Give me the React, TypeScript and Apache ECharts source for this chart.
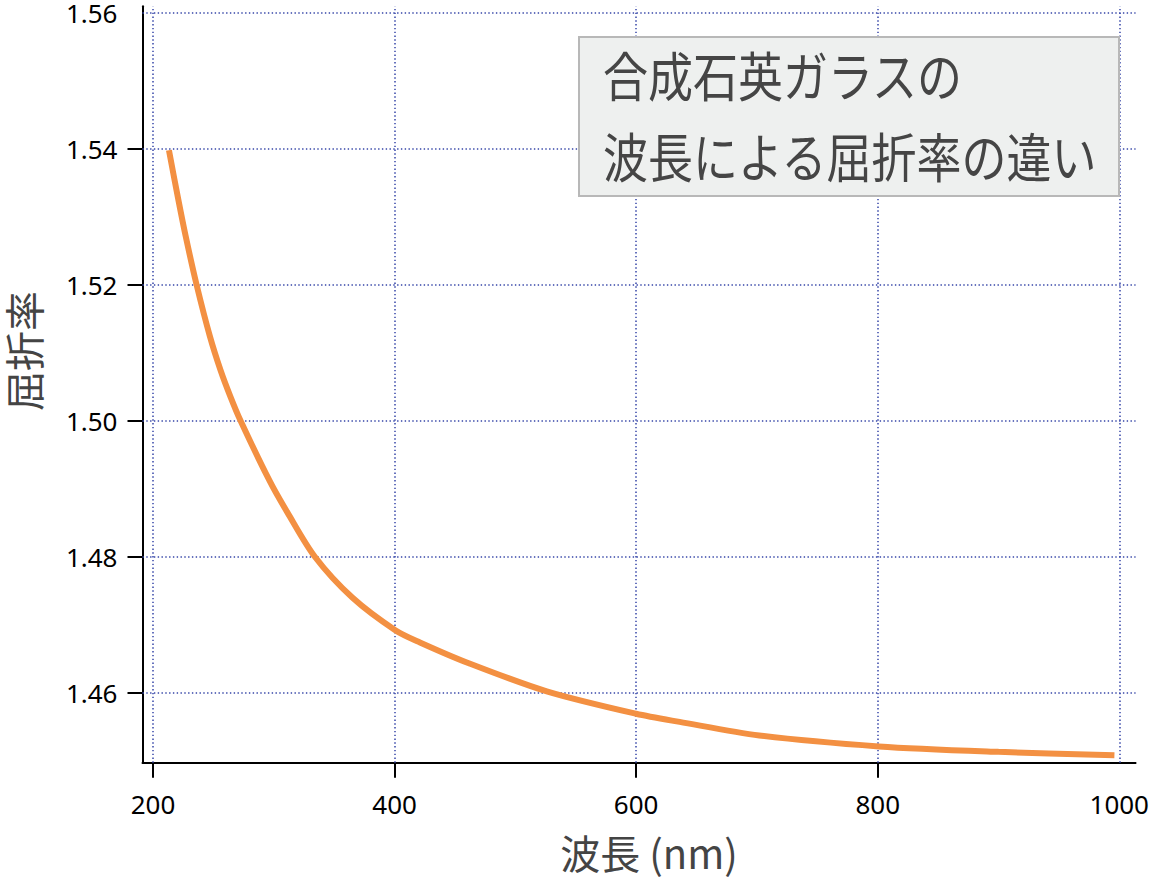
import React, { useEffect, useRef } from "react";
import * as echarts from "echarts";

const wavelengths = [213.2, 221, 227, 236.1, 247, 256, 264, 272.5, 297, 311, 334, 365, 400.6, 421, 462, 526, 600, 636, 702, 801, 900, 996];
const refractiveIndex = [1.5398, 1.5325, 1.5272, 1.52, 1.5125, 1.5074, 1.5036, 1.5, 1.491, 1.4866, 1.48, 1.474, 1.4692, 1.4674, 1.4643, 1.4602, 1.4569, 1.4557, 1.4537, 1.4521, 1.4513, 1.4508];

const xTickValues = [200, 400, 600, 800];
const xLabelValues = [200, 400, 600, 800, 1000];
const yTickValues = [1.46, 1.48, 1.5, 1.52, 1.54];
const yLabelValues = [1.46, 1.48, 1.5, 1.52, 1.54, 1.56];

const titleLines = ["合成石英ガラスの", "波長による屈折率の違い"];
const xName = "波長 (nm)";
const yName = "屈折率";

const FONT = "'Noto Sans CJK JP', 'Noto Sans', sans-serif";
const LABEL_FONT = "'Noto Sans', sans-serif";

export default function App() {
  const ref = useRef<HTMLDivElement>(null);
  useEffect(() => {
    if (!ref.current) return;
    const chart = echarts.init(ref.current, undefined, { renderer: "svg" });
    const gridLineStyle = { color: "#3646a8", width: 1.5, type: [1.4, 2.4] as any };
    const option: any = {
      animation: false,
      backgroundColor: "#ffffff",
      grid: { left: 142.5, right: 15, top: 3, bottom: 120.3, containLabel: false },
      xAxis: {
        type: "value",
        min: 191.3,
        max: 1013.5,
        axisLine: { lineStyle: { color: "#000", width: 2 } },
        axisTick: { length: 15, lineStyle: { color: "#000", width: 2 }, customValues: xTickValues },
        axisLabel: {
          customValues: xLabelValues,
          color: "#000",
          fontSize: 26,
          margin: 28,
          fontFamily: LABEL_FONT,
          formatter: (v: number) => String(v),
        },
        splitLine: { show: false },
      },
      yAxis: {
        type: "value",
        min: 1.4497,
        max: 1.561,
        axisLine: { show: true, lineStyle: { color: "#000", width: 2 } },
        axisTick: { show: true, length: 15, lineStyle: { color: "#000", width: 2 }, customValues: yTickValues },
        axisLabel: {
          customValues: yLabelValues,
          color: "#000",
          fontSize: 26,
          margin: 25,
          fontFamily: LABEL_FONT,
          formatter: (v: number) => v.toFixed(2),
        },
        splitLine: { show: false },
      },
      graphic: [
        {
          type: "rect",
          z: 10,
          shape: { x: 579, y: 37, width: 540, height: 159 },
          style: { fill: "#eef0ef", stroke: "#b8b8b8", lineWidth: 2 },
        },
        {
          type: "text",
          z: 11,
          x: 603,
          y: 74,
          scaleY: 1.18,
          style: { text: titleLines[0], fontSize: 45, fill: "#454545", fontFamily: FONT, align: "left", verticalAlign: "middle" },
        },
        {
          type: "text",
          z: 11,
          x: 603,
          y: 155,
          scaleY: 1.18,
          style: { text: titleLines[1], fontSize: 45, fill: "#454545", fontFamily: FONT, align: "left", verticalAlign: "middle" },
        },
        {
          type: "text",
          x: 649,
          y: 852,
          style: { text: xName, fontSize: 40, fill: "#444", fontFamily: FONT, align: "center", verticalAlign: "middle" },
        },
        {
          type: "text",
          x: 23,
          y: 351,
          rotation: Math.PI / 2,
          style: { text: yName, fontSize: 40, fill: "#444", fontFamily: FONT, align: "center", verticalAlign: "middle" },
        },
      ],
      series: [
        {
          type: "line",
          data: wavelengths.map((w, i) => [w, refractiveIndex[i]]),
          smooth: 0.3,
          showSymbol: false,
          z: 3,
          lineStyle: { color: "#f39042", width: 6 },
          markLine: {
            silent: true,
            symbol: "none",
            z: 1,
            label: { show: false },
            lineStyle: gridLineStyle,
            emphasis: { disabled: true },
            data: [
              ...xLabelValues.map((v) => ({ xAxis: v })),
              ...yLabelValues.map((v) => ({ yAxis: v })),
            ],
          },
        },
      ],
    };
    chart.setOption(option);
    return () => chart.dispose();
  }, []);
  return <div ref={ref} style={{ position: "fixed", left: 0, top: 0, width: 1152, height: 883 }} />;
}
